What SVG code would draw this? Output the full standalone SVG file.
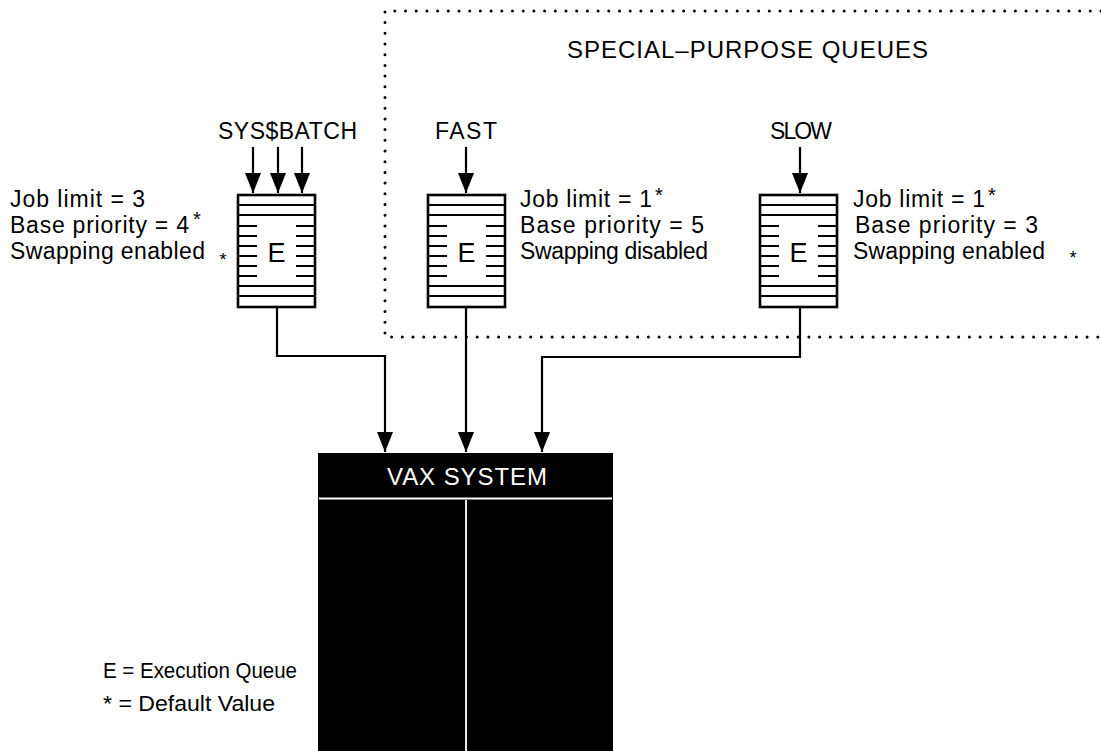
<svg xmlns="http://www.w3.org/2000/svg" width="1101" height="751" viewBox="0 0 1101 751">
<style>
text{font-family:"Liberation Sans",Arial,sans-serif;fill:#000}
.t{font-size:23px}
.ln{stroke:#000;stroke-width:2.2;fill:none}
.dot{stroke:#000;stroke-width:3;stroke-linecap:round;stroke-dasharray:0 10.7;fill:none}
</style>
<defs>
<marker id="ah" markerUnits="userSpaceOnUse" markerWidth="20" markerHeight="16" refX="20" refY="8" orient="auto" viewBox="0 0 20 16">
<path d="M0,0 L20,8 L0,16 z" fill="#000"/>
</marker>
<g id="queue">
<rect x="0" y="0" width="77" height="112" fill="#fff" stroke="#000" stroke-width="2.6"/>
<path d="M0,10H77M0,20H77M0,91H77M0,101H77" stroke="#000" stroke-width="2.2"/>
<path d="M0,31H19M0,41H19M0,51H19M0,61H19M0,71H19M0,81H19M58,31H77M58,41H77M58,51H77M58,61H77M58,71H77M58,81H77" stroke="#000" stroke-width="2.2"/>
<text x="38.5" y="67" font-size="27" text-anchor="middle">E</text>
</g>
</defs>
<rect width="1101" height="751" fill="#fff"/>

<g id="special-purpose-queues">
<path class="dot" d="M1101,11H385V337H1101"/>
<text x="567" y="58" font-size="24" textLength="361" lengthAdjust="spacing">SPECIAL–PURPOSE QUEUES</text>
</g>

<g id="connectors">
<path class="ln" d="M253,147V193" marker-end="url(#ah)"/>
<path class="ln" d="M278,147V193" marker-end="url(#ah)"/>
<path class="ln" d="M302,147V193" marker-end="url(#ah)"/>
<path class="ln" d="M466,147V193" marker-end="url(#ah)"/>
<path class="ln" d="M800,147V193" marker-end="url(#ah)"/>
<path class="ln" d="M277,307V356H385V452" marker-end="url(#ah)"/>
<path class="ln" d="M466,307V452" marker-end="url(#ah)"/>
<path class="ln" d="M800,307V357H542V452" marker-end="url(#ah)"/>
</g>

<g id="sysbatch">
<text class="t" x="218" y="139" textLength="139" lengthAdjust="spacing">SYS$BATCH</text>
<use href="#queue" x="238" y="195"/>
<text class="t" x="10" y="207" textLength="135" lengthAdjust="spacing">Job limit = 3</text>
<text class="t" x="10" y="233" textLength="179" lengthAdjust="spacing">Base priority = 4</text>
<text x="193" y="225.5" font-size="20">*</text>
<text class="t" x="10" y="259" textLength="195" lengthAdjust="spacing">Swapping enabled</text>
<text x="219.5" y="266" font-size="18">*</text>
</g>

<g id="fast">
<text class="t" x="435" y="139" textLength="62" lengthAdjust="spacing">FAST</text>
<use href="#queue" x="428" y="195"/>
<text class="t" x="520" y="207" textLength="132" lengthAdjust="spacing">Job limit = 1</text>
<text x="655" y="201.5" font-size="20">*</text>
<text class="t" x="520" y="233" textLength="184" lengthAdjust="spacing">Base priority = 5</text>
<text class="t" x="520" y="259" textLength="188" lengthAdjust="spacing">Swapping disabled</text>
</g>

<g id="slow">
<text class="t" x="770" y="139" textLength="62" lengthAdjust="spacing">SLOW</text>
<use href="#queue" x="760" y="195"/>
<text class="t" x="853" y="207" textLength="132" lengthAdjust="spacing">Job limit = 1</text>
<text x="988" y="201.5" font-size="20">*</text>
<text class="t" x="855" y="233" textLength="183" lengthAdjust="spacing">Base priority = 3</text>
<text class="t" x="853" y="259" textLength="192" lengthAdjust="spacing">Swapping enabled</text>
<text x="1069.5" y="264" font-size="18">*</text>
</g>

<g id="vax-system">
<rect x="318" y="453" width="295" height="298" fill="#000"/>
<path d="M319,498.5H612M466,500V751" stroke="#fff" stroke-width="1.8"/>
<text x="387" y="485" font-size="24" textLength="160" lengthAdjust="spacing" style="fill:#fff">VAX SYSTEM</text>
</g>

<g id="legend">
<text x="103" y="678" font-size="22" textLength="194" lengthAdjust="spacingAndGlyphs">E = Execution Queue</text>
<text x="103" y="711" font-size="22" textLength="172" lengthAdjust="spacingAndGlyphs">* = Default Value</text>
</g>
</svg>
